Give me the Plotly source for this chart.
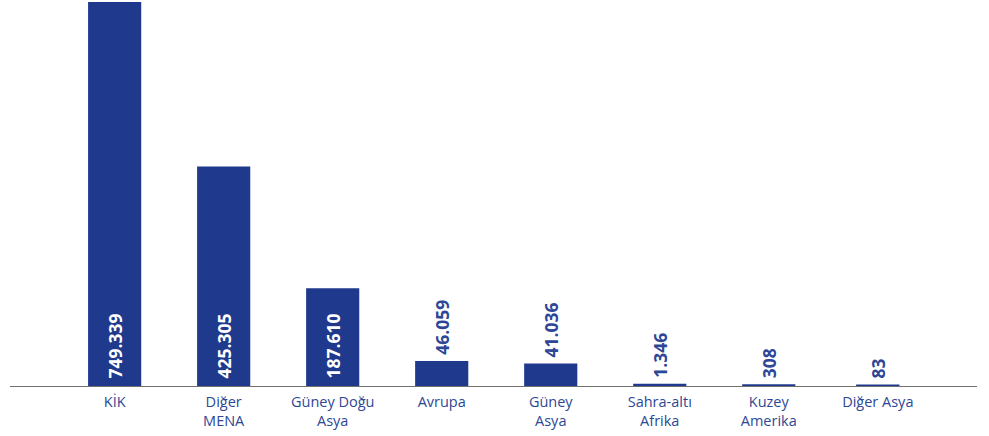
import plotly.graph_objects as go

categories = ["KİK", "Diğer MENA", "Güney Doğu Asya", "Avrupa", "Güney Asya",
              "Sahra-altı Afrika", "Kuzey Amerika", "Diğer Asya"]
tick_labels = ["KİK", "Diğer<br>MENA", "Güney Doğu<br>Asya", "Avrupa", "Güney<br>Asya",
               "Sahra-altı<br>Afrika", "Kuzey<br>Amerika", "Diğer Asya"]
values = [749339, 425305, 187610, 46059, 41036, 1346, 308, 83]
label_positions = ["inside", "inside", "inside", "outside", "outside", "outside", "outside", "outside"]

BAR = "#1f398c"
TXT = "#2d4796"
bar_widths = [0.46] * 7 + [0.37]

fig = go.Figure(go.Bar(
    x=categories,
    y=values,
    width=bar_widths,
    marker=dict(color=BAR, line=dict(color=BAR, width=3)),
    texttemplate="\u00a0%{y:,}",
    textposition=label_positions,
    textangle=-90,
    insidetextanchor="start",
    constraintext="none",
    insidetextfont=dict(color="white", size=17.5, family="Open Sans", weight="bold"),
    outsidetextfont=dict(color=TXT, size=17.5, family="Open Sans", weight="bold"),
    cliponaxis=False,
    hoverinfo="skip",
))

fig.update_layout(
    width=989, height=436,
    margin=dict(l=10, r=12, t=2, b=50),
    paper_bgcolor="white", plot_bgcolor="white",
    separators=",.",
    showlegend=False,
    xaxis=dict(
        range=[-0.96, 7.91],
        tickmode="array", tickvals=categories, ticktext=tick_labels,
        showline=True, linecolor="#707070", linewidth=1,
        showgrid=False, ticks="",
        ticklabelstandoff=3,
        tickfont=dict(color=TXT, size=14.5, family="Open Sans"),
        automargin=False,
    ),
    yaxis=dict(range=[0, 749339], visible=False, showgrid=False),
)

fig.write_html("out.html", config={"displayModeBar": False},
               post_script="document.body.style.margin='0';")
